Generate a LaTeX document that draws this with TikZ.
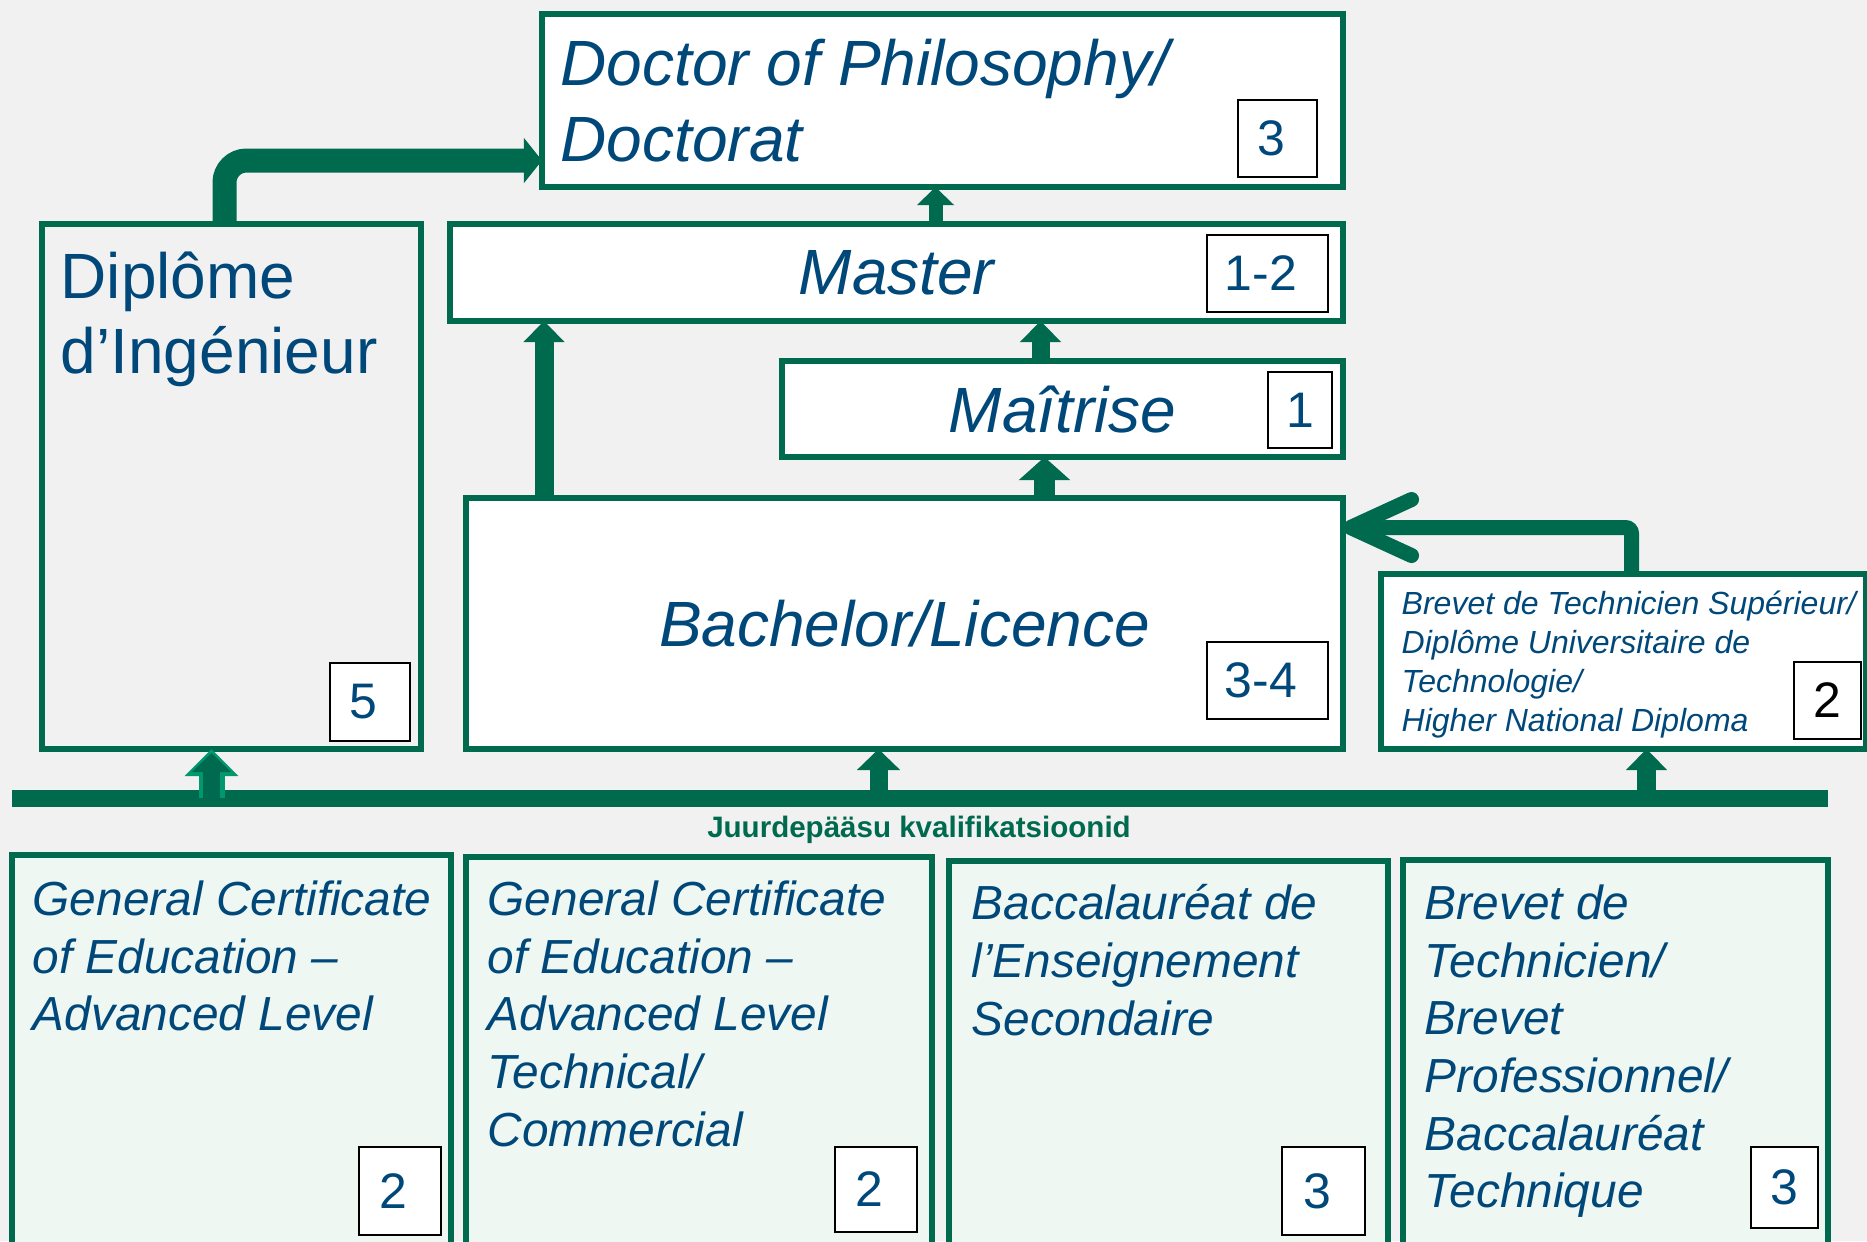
\documentclass[tikz,border=0pt]{standalone}
\usepackage{fontspec}
\setmainfont{Liberation Sans}
\usetikzlibrary{arrows.meta}
\usetikzlibrary{positioning}

\definecolor{eduGreen}{RGB}{0,106,78}
\definecolor{eduLight}{RGB}{0,152,110}
\definecolor{eduBlue}{RGB}{0,72,122}
\definecolor{eduMint}{RGB}{238,247,242}
\definecolor{eduBack}{RGB}{241,241,242}

\tikzset{
    degree/.style={
           rectangle,
           draw=eduGreen, line width=6\px,
           fill=white,
           inner sep=0pt, outer sep=0pt,
           anchor=north west,
           text=eduBlue,
           font=\fontsize{18.2}{21.6}\selectfont\itshape,
           },
    entry/.style={
           degree,
           fill=eduMint,
           minimum height=420\px,
           },
    years/.style={
           rectangle,
           draw=black, line width=2\px,
           fill=white,
           inner sep=0pt, outer sep=0pt,
           text=eduBlue,
           font=\fontsize{14.2}{16}\selectfont,
           },
    % wider boxes keep their number a little left of centre
    wideyears/.style={years, execute at end node={\hspace*{13\px}}},
    bigtext/.style={
           inner sep=0pt,
           align=left,
           text=eduBlue,
           font=\fontsize{18.2}{21.6}\selectfont\itshape,
           },
    entrytext/.style={bigtext, font=\fontsize{13.6}{16.4}\selectfont\itshape},
    smalltext/.style={bigtext, font=\fontsize{9.1}{11.1}\selectfont\itshape},
    lift/.style={
           draw=eduGreen, line width=19\px,
           -{Triangle[width=0.40cm,length=0.21cm]},
           },
}

\begin{document}
\begin{tikzpicture}[x=0.01cm, y=-0.01cm]
  \newlength{\px}
  \setlength{\px}{0.01cm}

  % slide background, fixes the page size
  \fill[eduBack, use as bounding box] (0,0) rectangle (1867,1241);
  \clip (0,0) rectangle (1867,1241);

  % degree boxes, placed by their upper left corner
  \node[degree, minimum width=801\px, minimum height=173\px] (DOCTOR) at (542,14) {};
  \node[degree, minimum width=893\px, minimum height=97\px] (MASTER) at (450,224) {Master};
  \node[degree, minimum width=561\px, minimum height=96\px] (MAITRISE) at (782,361) {Maîtrise};
  \node[degree, minimum width=877\px, minimum height=251\px] (BACHELOR) at (466,498) {Bachelor/Licence};
  \node[degree, fill=none, minimum width=379\px, minimum height=525\px] (INGENIEUR) at (42,224) {};
  \node[degree, minimum width=485\px, minimum height=175\px] (BTS) at (1381,574) {};

  % texts that sit in the upper left of their box
  \node[bigtext, below right=24\px and 18\px of DOCTOR.north west] (DOCTORTXT)
   {Doctor of Philosophy/\\Doctorat};
  \node[bigtext, font=\fontsize{18.2}{21.4}\selectfont,
   below right=27\px and 18\px of INGENIEUR.north west] (INGENIEURTXT)
   {Diplôme\\d’Ingénieur};
  \node[smalltext, below right=16\px and 20\px of BTS.north west] (BTSTXT)
   {Brevet de Technicien Supérieur/\\Diplôme Universitaire de\\Technologie/\\Higher National Diploma};

  % years of study, bottom right of each box
  \node[wideyears, minimum width=79\px, minimum height=77\px,
   above left=10\px and 26\px of DOCTOR.south east] (DOCTORYRS) {3};
  \node[wideyears, minimum width=121\px, minimum height=77\px,
   above left=9\px and 15\px of MASTER.south east] (MASTERYRS) {1-2};
  \node[years, minimum width=64\px, minimum height=76\px,
   above left=9\px and 11\px of MAITRISE.south east] (MAITRISEYRS) {1};
  \node[wideyears, minimum width=121\px, minimum height=77\px,
   above left=30\px and 15\px of BACHELOR.south east] (BACHELORYRS) {3-4};
  \node[wideyears, minimum width=80\px, minimum height=78\px,
   above left=8\px and 11\px of INGENIEUR.south east] (INGENIEURYRS) {5};
  \node[years, text=black, minimum width=67\px, minimum height=77\px,
   above left=10\px and 5\px of BTS.south east] (BTSYRS) {2};

  % access qualifications, they run off the bottom of the slide
  \node[entry, minimum width=439\px] (GCEAL) at (12,855) {};
  \node[entry, minimum width=466\px] (GCEALTC) at (466,857) {};
  \node[entry, minimum width=439\px] (BAC) at (949,861) {};
  \node[entry, minimum width=425\px] (BTECH) at (1403,860) {};

  \node[entrytext, below right=25\px and 20\px of GCEAL.north west] (GCEALTXT)
   {General Certificate\\of Education –\\Advanced Level};
  \node[entrytext, below right=23\px and 21\px of GCEALTC.north west] (GCEALTCTXT)
   {General Certificate\\of Education –\\Advanced Level\\Technical/\\Commercial};
  \node[entrytext, below right=23\px and 22\px of BAC.north west] (BACTXT)
   {Baccalauréat de\\l’Enseignement\\Secondaire};
  \node[entrytext, below right=24\px and 21\px of BTECH.north west] (BTECHTXT)
   {Brevet de\\Technicien/\\Brevet\\Professionnel/\\Baccalauréat\\Technique};

  \node[wideyears, minimum width=82\px, minimum height=88\px,
   below left=292\px and 10\px of GCEAL.north east] (GCEALYRS) {2};
  \node[wideyears, minimum width=82\px, minimum height=85\px,
   below left=290\px and 15\px of GCEALTC.north east] (GCEALTCYRS) {2};
  \node[wideyears, minimum width=83\px, minimum height=88\px,
   below left=286\px and 23\px of BAC.north east] (BACYRS) {3};
  \node[years, minimum width=67\px, minimum height=81\px,
   below left=287\px and 10\px of BTECH.north east] (BTECHYRS) {3};

  % the bar that collects the access qualifications
  \coordinate (BARL) at (12,798);
  \coordinate (BARR) at (1828,798);
  \draw[eduGreen, line width=17\px] (BARL) -- (BARR);
  \node[font=\bfseries\fontsize{8.4}{10}\selectfont, text=eduGreen, anchor=base]
   (ACCESS) at (919,837) {Juurdepääsu kvalifikatsioonid};

  % arrows up from the bar
  \coordinate (UPING) at ([xshift=-20\px]INGENIEUR.south);
  \coordinate (UPBACH) at ([xshift=-26\px]BACHELOR.south);
  \coordinate (UPBTS) at ([xshift=23\px]BTS.south);
  \draw[lift, draw=eduLight, line width=26\px, -{Triangle[width=0.52cm,length=0.27cm]}]
   (UPING |- BARL) -- (UPING);
  \draw[lift, line width=17\px, shorten >=4\px, -{Triangle[width=0.38cm,length=0.19cm]}]
   (UPING |- BARL) -- (UPING);
  \draw[lift, line width=18\px, -{Triangle[width=0.42cm,length=0.21cm]}] (UPBACH |- BARL) -- (UPBACH);
  \draw[lift] (UPBTS |- BARL) -- (UPBTS);

  % arrows between the degrees
  \coordinate (UPMAS) at ([xshift=78\px]BACHELOR.north west);
  \draw[lift] (UPMAS) -- (UPMAS |- MASTER.south);
  \coordinate (UPMAI) at ([xshift=-18\px]MAITRISE.south);
  \draw[lift, line width=21\px, -{Triangle[width=0.50cm,length=0.23cm]}] (UPMAI |- BACHELOR.north) -- (UPMAI);
  \coordinate (UPMAI2) at ([xshift=-22\px]MAITRISE.north);
  \draw[lift, line width=18\px] (UPMAI2) -- (UPMAI2 |- MASTER.south);
  \coordinate (UPDOC) at ([xshift=-7\px]DOCTOR.south);
  \draw[lift, line width=14\px, -{Triangle[width=0.36cm,length=0.18cm]}] (UPDOC |- MASTER.north) -- (UPDOC);

  % engineer diploma goes on to the doctorate
  \draw[lift, line width=24\px, rounded corners=22\px, -{Triangle[width=0.44cm,length=0.18cm]}]
   ([xshift=-7\px]INGENIEUR.north) |- ([yshift=-60\px]DOCTOR.west);

  % BTS/DUT leads back into the bachelor
  \draw[eduGreen, line width=15\px, rounded corners=6\px,
   -{Straight Barb[length=0.61cm,width=0.56cm,round]}]
   ([xshift=8\px]BTS.north) |- ([yshift=96\px]BACHELOR.east);

\end{tikzpicture}
\end{document}
